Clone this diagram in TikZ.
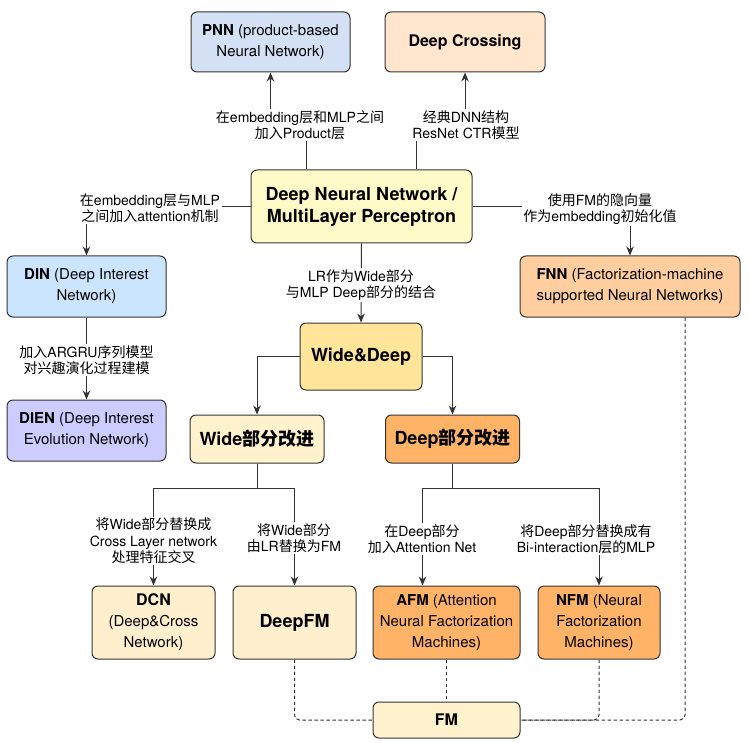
\documentclass[tikz,border=0pt]{standalone}
\usepackage{fontspec}
\setmainfont{TeX Gyre Heros}
\newfontfamily\cjk{Noto Sans CJK SC}
\newcommand{\zh}[1]{{\cjk #1}}
\usetikzlibrary{arrows.meta,backgrounds}

\definecolor{linegray}{HTML}{333333}
\definecolor{pnnblue}{HTML}{D4E1F5}
\definecolor{dcpeach}{HTML}{FFE6CC}
\definecolor{dnnyellow}{HTML}{FFFBC8}
\definecolor{dinblue}{HTML}{CCE5FF}
\definecolor{fnnorange}{HTML}{FFCE9F}
\definecolor{wdyellow}{HTML}{FFE599}
\definecolor{dienpurple}{HTML}{CCCCFF}
\definecolor{widecream}{HTML}{FFF2CC}
\definecolor{deeporange}{HTML}{FFB366}
\definecolor{dcncream}{HTML}{FFEFCC}

\tikzset{
  model/.style={draw=linegray, line width=1pt, rounded corners=6pt, align=center,
    inner sep=2pt, font=\fontsize{15}{21}\selectfont},
  bigtitle/.style={font=\bfseries\fontsize{18}{22}\selectfont},
  midtitle/.style={font=\bfseries\fontsize{16}{20}\selectfont},
  lbl/.style={fill=white, align=center, inner sep=1.5pt, font=\fontsize{14}{16.5}\selectfont},
  link/.style={draw=linegray, line width=1pt, -{Stealth[length=9pt,width=7.5pt]}},
  fmlink/.style={draw=linegray, line width=1pt, dash pattern=on 3.5pt off 2.5pt, rounded corners=5pt},
}

\begin{document}
\begin{tikzpicture}[x=1pt, y=-1pt]
  \useasboundingbox (0,0) rectangle (749,743);

  % models
  \node[model, fill=pnnblue, minimum width=159pt, minimum height=60pt] (pnn) at (270.5,42)
    {\textbf{PNN} (product-based\\Neural Network)};
  \node[model, midtitle, fill=dcpeach, minimum width=160pt, minimum height=60pt] (dc) at (465,42)
    {Deep Crossing};
  \node[model, bigtitle, fill=dnnyellow, minimum width=221pt, minimum height=73pt] (dnn) at (361.5,206.5)
    {Deep Neural Network /\\MultiLayer Perceptron};
  \node[model, fill=dinblue, minimum width=159pt, minimum height=61pt] (din) at (86.5,286.5)
    {\textbf{DIN} (Deep Interest\\Network)};
  \node[model, fill=fnnorange, minimum width=220pt, minimum height=61pt] (fnn) at (630,286.5)
    {\textbf{FNN} (Factorization-machine\\supported Neural Networks)};
  \node[model, bigtitle, fill=wdyellow, minimum width=122pt, minimum height=67pt] (wd) at (361,356.5)
    {Wide\&Deep};
  \node[model, fill=dienpurple, minimum width=159pt, minimum height=61pt] (dien) at (86.5,430.5)
    {\textbf{DIEN} (Deep Interest\\Evolution Network)};
  \node[model, bigtitle, fill=widecream, minimum width=134pt, minimum height=48pt] (wide) at (257,439)
    {Wide\zh{部分改进}};
  \node[model, bigtitle, fill=deeporange, minimum width=134pt, minimum height=48pt] (deep) at (452.5,439)
    {Deep\zh{部分改进}};
  \node[model, fill=dcncream, minimum width=123pt, minimum height=73pt] (dcn) at (153.5,622.5)
    {\textbf{\fontsize{16}{21}\selectfont DCN}\\(Deep\&Cross\\Network)};
  \node[model, bigtitle, fill=dcncream, minimum width=123pt, minimum height=73pt] (deepfm) at (294.5,622.5)
    {DeepFM};
  \node[model, fill=deeporange, minimum width=147pt, minimum height=73pt] (afm) at (446.5,622.5)
    {\textbf{AFM} (Attention\\Neural Factorization\\Machines)};
  \node[model, fill=deeporange, minimum width=122pt, minimum height=73pt] (nfm) at (599,622.5)
    {\textbf{NFM} (Neural\\Factorization\\Machines)};
  \node[model, midtitle, fill=widecream, minimum width=147pt, minimum height=36pt] (fm) at (446.5,720)
    {FM};

  % edge labels
  \node[lbl] (l_pnn) at (300,125) {\zh{在}embedding\zh{层和}MLP\zh{之间}\\\zh{加入}Product\zh{层}};
  \node[lbl] (l_dc) at (466,125) {\zh{经典}DNN\zh{结构}\\ResNet CTR\zh{模型}};
  \node[lbl] (l_din) at (150,208) {\zh{在}embedding\zh{层与}MLP\\\zh{之间加入}attention\zh{机制}};
  \node[lbl] (l_fnn) at (600,209) {\zh{使用}FM\zh{的隐向量}\\\zh{作为}embedding\zh{初始化值}};
  \node[lbl] (l_wd) at (361,285) {LR\zh{作为}Wide\zh{部分}\\\zh{与}MLP Deep\zh{部分的结合}};
  \node[lbl] (l_dien) at (86.5,360) {\zh{加入}ARGRU\zh{序列模型}\\\zh{对兴趣演化过程建模}};
  \node[lbl] (l_dcn) at (153.5,541) {\zh{将}Wide\zh{部分替换成}\\Cross Layer network\\\zh{处理特征交叉}};
  \node[lbl] (l_deepfm) at (294,538) {\zh{将}Wide\zh{部分}\\\zh{由}LR\zh{替换为}FM};
  \node[lbl] (l_afm) at (422,539) {\zh{在}Deep\zh{部分}\\\zh{加入}Attention Net};
  \node[lbl] (l_nfm) at (586,539) {\zh{将}Deep\zh{部分替换成有}\\Bi-interaction\zh{层的}MLP};

  % connectors
  \begin{scope}[on background layer]
    \draw[link] ([xshift=-55pt]dnn.north) |- (l_pnn.center) -| (pnn.south);
    \draw[link] ([xshift=55pt]dnn.north) |- (l_dc.center) -| (dc.south);
    \draw[link] (dnn.west) -| (din.north);
    \draw[link] (dnn.east) -| (fnn.north);
    \draw[link] (dnn.south) -- (wd.north);
    \draw[link] (din.south) -- (dien.north);
    \draw[link] (wd.west) -| (wide.north);
    \draw[link] (wd.east) -| (deep.north);
    \draw[link] (wide.south) -- ++(0,25) -| (dcn.north);
    \draw[link] (wide.south) -- ++(0,25) -| (deepfm.north);
    \draw[link] (deep.south) -- ++(0,25) -| ([xshift=-24pt]afm.north);
    \draw[link] (deep.south) -- ++(0,25) -| (nfm.north);
    % dashed links to FM
    \draw[fmlink] (deepfm.south) |- (fm.west);
    \draw[fmlink] (afm.south) -- (fm.north);
    \draw[fmlink] (nfm.south) |- (fm.east);
    \draw[fmlink] ([xshift=55pt]fnn.south) |- (fm.east);
  \end{scope}
\end{tikzpicture}
\end{document}
